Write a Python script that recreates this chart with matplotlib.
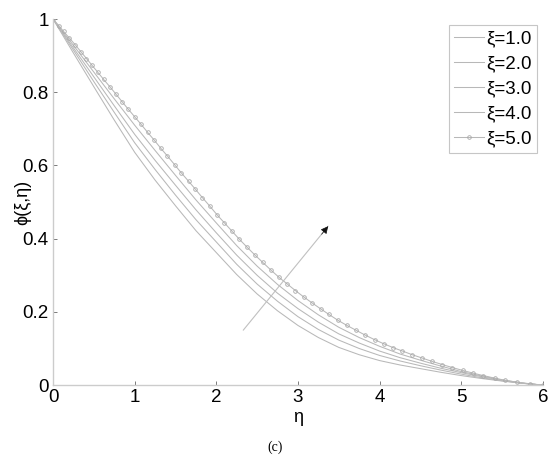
import matplotlib
matplotlib.use("Agg")
import matplotlib.pyplot as plt

eta = [0, 0.25, 0.5, 0.75, 1.0, 1.25, 1.5, 1.75, 2.0, 2.25, 2.5, 2.75, 3.0,
       3.25, 3.5, 3.75, 4.0, 4.25, 4.5, 4.75, 5.0, 5.25, 5.5, 5.75, 6.0]

phi_xi1 = [1.0, 0.907, 0.815, 0.724, 0.636, 0.560, 0.490, 0.422, 0.362, 0.302, 0.249, 0.203, 0.163,
           0.130, 0.103, 0.083, 0.067, 0.055, 0.045, 0.035, 0.026, 0.018, 0.011, 0.005, 0.0]
phi_xi2 = [1.0, 0.915, 0.829, 0.745, 0.662, 0.589, 0.519, 0.452, 0.391, 0.330, 0.276, 0.229, 0.187,
           0.152, 0.123, 0.100, 0.081, 0.066, 0.053, 0.041, 0.030, 0.020, 0.012, 0.005, 0.0]
phi_xi3 = [1.0, 0.921, 0.842, 0.763, 0.685, 0.614, 0.546, 0.479, 0.416, 0.355, 0.300, 0.251, 0.209,
           0.172, 0.140, 0.115, 0.093, 0.075, 0.060, 0.046, 0.034, 0.023, 0.013, 0.005, 0.0]
phi_xi4 = [1.0, 0.928, 0.855, 0.782, 0.710, 0.641, 0.573, 0.506, 0.443, 0.381, 0.325, 0.275, 0.231,
           0.192, 0.158, 0.130, 0.106, 0.085, 0.068, 0.052, 0.037, 0.025, 0.014, 0.006, 0.0]

eta_xi5 = [0, 0.07, 0.13, 0.20, 0.27, 0.34, 0.41, 0.48, 0.55, 0.62, 0.70, 0.77, 0.85, 0.92,
           1.00, 1.08, 1.16, 1.24, 1.32, 1.40, 1.49, 1.57, 1.66, 1.74, 1.83, 1.92, 2.01, 2.10,
           2.19, 2.28, 2.38, 2.47, 2.57, 2.67, 2.77, 2.87, 2.97, 3.07, 3.17, 3.28, 3.38, 3.49,
           3.60, 3.71, 3.82, 3.94, 4.05, 4.17, 4.28, 4.40, 4.52, 4.64, 4.77, 4.89, 5.02, 5.14,
           5.27, 5.41, 5.54, 5.68, 5.84, 6.00]
phi_xi5 = [1.000, 0.982, 0.966, 0.948, 0.930, 0.911, 0.892, 0.873, 0.854, 0.835, 0.814, 0.795,
           0.773, 0.754, 0.733, 0.712, 0.690, 0.669, 0.647, 0.626, 0.602, 0.580, 0.557, 0.536,
           0.512, 0.489, 0.465, 0.443, 0.421, 0.399, 0.376, 0.356, 0.335, 0.314, 0.294, 0.276,
           0.258, 0.241, 0.225, 0.208, 0.193, 0.177, 0.163, 0.150, 0.137, 0.124, 0.113, 0.102,
           0.093, 0.083, 0.074, 0.065, 0.056, 0.048, 0.040, 0.033, 0.026, 0.019, 0.013, 0.008,
           0.003, 0.000]

labels = ["ξ=1.0", "ξ=2.0", "ξ=3.0", "ξ=4.0", "ξ=5.0"]
xticks = [0, 1, 2, 3, 4, 5, 6]
yticks = [0, 0.2, 0.4, 0.6, 0.8, 1.0]
yticklabels = ["0", "0.2", "0.4", "0.6", "0.8", "1"]

arrow_start = (2.33, 0.150)
arrow_end = (3.37, 0.434)

plt.rcParams['font.family'] = ['Liberation Sans', 'DejaVu Sans']

fig = plt.figure(figsize=(5.5, 4.59), dpi=100)
ax = fig.add_axes([0.0964, 0.161, 0.8906, 0.7976])

lc = '#b8b8b8'
for y, lab in zip([phi_xi1, phi_xi2, phi_xi3, phi_xi4], labels[:4]):
    ax.plot(eta, y, color=lc, lw=0.75, label=lab)
ax.plot(eta_xi5, phi_xi5, color=lc, lw=0.75, marker='o', ms=2.6, mfc='none',
        mec='#a8a8a8', mew=0.6, label=labels[4])

ax.annotate('', xy=arrow_end, xytext=arrow_start,
            arrowprops=dict(arrowstyle='-', color='#c0c0c0', lw=0.8,
                            shrinkA=0, shrinkB=0))
ax.annotate('', xy=arrow_end, xytext=(arrow_end[0] - 0.08, arrow_end[1] - 0.022),
            arrowprops=dict(arrowstyle='-|>', color='#111111', lw=0.5,
                            mutation_scale=11, shrinkA=0, shrinkB=0))

ax.set_xlim(0, 6)
ax.set_ylim(0, 1)
ax.set_xticks(xticks)
ax.set_xticklabels([str(t) for t in xticks])
ax.set_yticks(yticks)
ax.set_yticklabels(yticklabels)
ax.tick_params(direction='in', length=3, width=0.6, color='#666666',
               labelsize=13.5, labelcolor='black', pad=3)
for s in ['top', 'right']:
    ax.spines[s].set_visible(False)
for s in ['left', 'bottom']:
    ax.spines[s].set_color('#cccccc')
    ax.spines[s].set_linewidth(1.0)

ax.set_xlabel('η', fontsize=13, labelpad=2)
ax.set_ylabel('ϕ(ξ,η)', fontsize=13)
ax.yaxis.set_label_coords(-0.045, 0.5)

leg = ax.legend(loc='upper right', bbox_to_anchor=(0.996, 0.995), fontsize=13.5,
                frameon=True, fancybox=False, handlelength=1.6, handletextpad=0.1,
                borderpad=0.3, labelspacing=0.42, borderaxespad=0.2)
leg.get_frame().set_edgecolor('#b8b8b8')
leg.get_frame().set_linewidth(0.8)

fig.text(0.5, 0.026, '(c)', ha='center', va='center', fontsize=10,
         family=['Liberation Serif', 'DejaVu Serif'])

fig.savefig('out.png', dpi=100)
